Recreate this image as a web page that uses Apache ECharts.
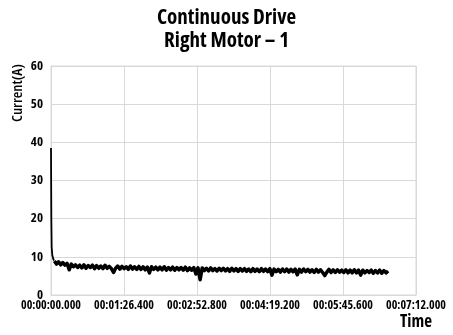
<!DOCTYPE html>
<html>
<head>
<meta charset="utf-8">
<script src="https://cdn.jsdelivr.net/npm/echarts@6/dist/echarts.min.js"></script>
<style>
  html, body { margin: 0; padding: 0; background: #fff; }
  #chart { width: 453px; height: 335px; }
</style>
</head>
<body>
<div id="chart"></div>
<script>
// Motor current log, continuous drive test (seconds, amperes)
const titleLines = ['Continuous Drive', 'Right Motor – 1'];
const yAxisName = 'Current(A)';
const xAxisName = 'Time';

// Start-up surge, sampled irregularly
const surgeTimes = [0, 0.4, 0.8, 1.5, 2.5, 3.5];
const surgeValues = [38.5, 20, 12.5, 10.5, 9.6, 9.0];

// Steady running, one reading every 2.5 s starting at 4 s
const runStart = 4;
const runStep = 2.5;
const runValues = [
  8.9, 8.1, 8.7, 7.9, 8.5, 7.8, 8.3, 6.6, 8.1, 7.4,
  7.9, 7.2, 7.8, 7.1, 7.9, 7.0, 7.7, 7.2, 7.8, 6.9,
  7.7, 7.0, 7.6, 6.9, 7.8, 7.0, 7.5, 6.9, 5.9, 7.0,
  7.6, 6.8, 7.5, 6.9, 7.4, 6.7, 7.6, 6.8, 7.4, 6.7,
  7.5, 6.7, 7.4, 6.6, 7.3, 5.8, 7.4, 6.7, 7.3, 6.6,
  7.3, 6.6, 7.4, 6.5, 7.2, 6.6, 7.3, 6.5, 7.2, 6.6,
  7.2, 6.5, 7.3, 6.4, 7.1, 6.5, 7.2, 5.5, 7.1, 4.0,
  7.1, 6.4, 7.0, 6.3, 7.1, 6.4, 6.9, 6.3, 7.0, 6.4,
  7.0, 6.3, 6.9, 6.2, 7.0, 6.3, 6.9, 6.2, 6.9, 6.3,
  6.9, 6.2, 6.8, 6.1, 6.9, 6.2, 6.8, 6.1, 6.9, 6.2,
  6.8, 6.1, 6.9, 5.2, 6.8, 6.1, 6.7, 6.0, 6.8, 6.1,
  6.8, 6.0, 6.7, 6.1, 6.8, 5.3, 6.7, 6.0, 6.8, 6.1,
  6.7, 6.0, 6.6, 5.9, 6.7, 6.0, 6.6, 5.9, 5.1, 6.0,
  6.7, 5.9, 6.6, 5.9, 6.6, 6.0, 6.5, 5.9, 6.6, 5.8,
  6.5, 5.8, 6.6, 5.8, 6.5, 5.2, 6.5, 5.8, 6.4, 5.9,
  6.5, 5.7, 6.4, 5.8, 6.5, 5.7, 6.4, 5.8, 6.3
];

// Axis ranges
const timeMax = 432;      // 00:07:12
const timeTick = 86.4;    // 00:01:26.400
const currentMax = 60;
const currentTick = 10;

// Surge trace joins onto the first running reading
const surgeData = surgeTimes.map((t, i) => [t, surgeValues[i]]);
surgeData.push([runStart, runValues[0]]);
const runData = runValues.map((v, i) => [runStart + i * runStep, v]);

function pad(n, w) { return String(n).padStart(w, '0'); }
function fmtTime(sec) {
  const ms = Math.round(sec * 1000);
  const h = Math.floor(ms / 3600000);
  const m = Math.floor((ms % 3600000) / 60000);
  const s = Math.floor((ms % 60000) / 1000);
  const r = ms % 1000;
  return pad(h, 2) + ':' + pad(m, 2) + ':' + pad(s, 2) + '.' + pad(r, 3);
}

const FONT = "'Open Sans', sans-serif";
const NARROW = 'condensed';
const GRID_LINE = '#d9d9d9';

const chart = echarts.init(document.getElementById('chart'), null, { renderer: 'canvas' });
chart.setOption({
  backgroundColor: '#ffffff',
  animation: false,
  title: {
    text: titleLines.join('\n'),
    left: 'center',
    top: 2,
    padding: [5, 0, 5, 14],   // nudges the centred title over the plot area
    textStyle: { fontFamily: FONT, fontStyle: NARROW, fontWeight: 'bold', fontSize: 21, color: '#000', lineHeight: 23 }
  },
  grid: { left: 51, right: 37, top: 66, bottom: 40, containLabel: false, outerBoundsMode: 'none',
          show: true, borderColor: GRID_LINE, borderWidth: 1 },
  graphic: [{
    type: 'text',
    left: 10,
    top: 64,
    rotation: Math.PI / 2,
    style: { text: yAxisName, font: NARROW + ' 600 15px ' + FONT, fill: '#000' }
  }],
  xAxis: {
    type: 'value', min: 0, max: timeMax, interval: timeTick,
    name: xAxisName, nameLocation: 'end', nameGap: 0,
    nameTextStyle: { fontFamily: FONT, fontStyle: NARROW, fontWeight: 'bold', fontSize: 17, color: '#000',
                     align: 'center', verticalAlign: 'top', padding: [19, 0, 0, 0] },
    axisLine: { show: true, lineStyle: { color: GRID_LINE } },
    axisTick: { show: false },
    axisLabel: { formatter: v => fmtTime(v), fontFamily: FONT, fontStyle: NARROW, fontWeight: 'bold',
                 fontSize: 12, color: '#000', margin: 5,
                 showMinLabel: true, showMaxLabel: true, hideOverlap: false },
    splitLine: { show: true, lineStyle: { color: GRID_LINE, width: 1 } }
  },
  yAxis: {
    type: 'value', min: 0, max: currentMax, interval: currentTick,
    axisLine: { show: true, lineStyle: { color: GRID_LINE } },
    axisTick: { show: false },
    axisLabel: { fontFamily: FONT, fontStyle: NARROW, fontWeight: 'bold', fontSize: 13, color: '#000', margin: 8 },
    splitLine: { show: true, lineStyle: { color: GRID_LINE, width: 1 } }
  },
  series: [{
    type: 'line',
    data: surgeData,
    showSymbol: false,
    lineStyle: { color: '#000', width: 1.8 },
    z: 3
  }, {
    type: 'line',
    data: runData,
    showSymbol: false,
    lineStyle: { color: '#000', width: 3.5, join: 'round' },
    z: 3
  }]
});
</script>
</body>
</html>
